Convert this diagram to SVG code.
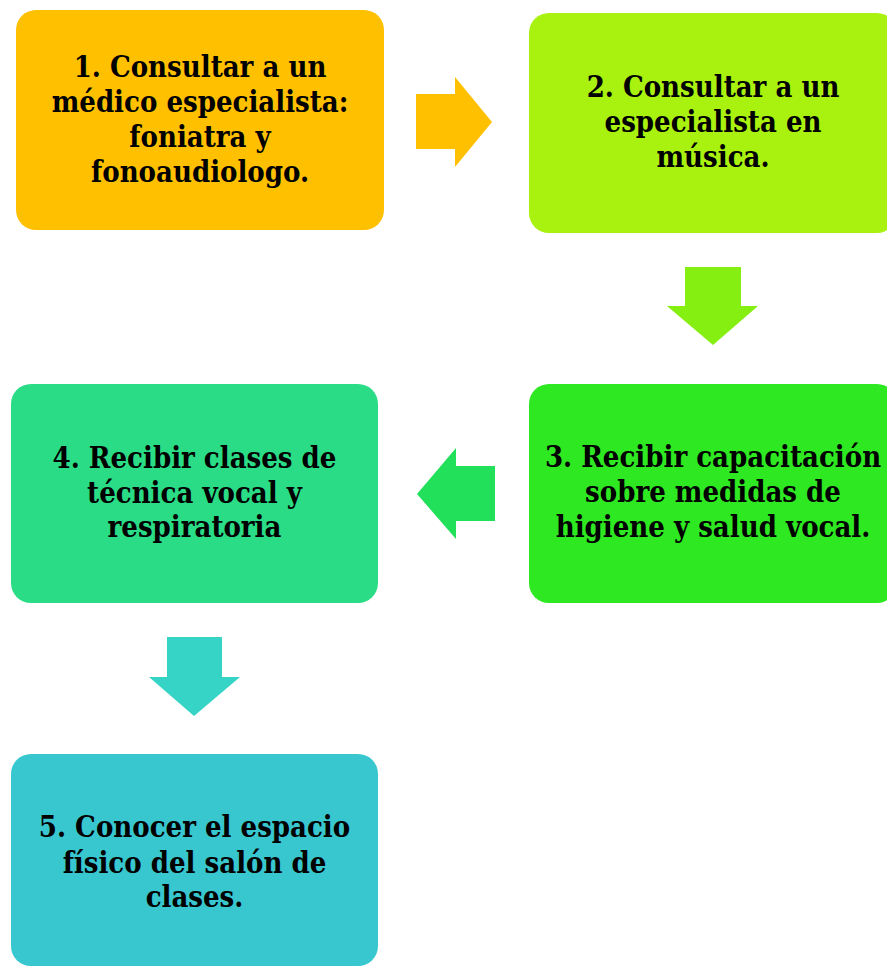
<svg xmlns="http://www.w3.org/2000/svg" width="887" height="966" viewBox="0 0 887 966">
<style>
text{font-family:"DejaVu Serif Condensed","DejaVu Serif","Liberation Serif",serif;font-stretch:condensed;font-weight:bold;font-size:29px;fill:#000;text-anchor:middle}
</style>
<rect width="887" height="966" fill="#fff"/>
<g id="connectors">
<polygon points="416,94 455,94 455,77 492,122 455,167 455,149 416,149" fill="#FFC000"/>
<polygon points="685,267 741,267 741,306 758,306 713,345 667,306 685,306" fill="#86EF12"/>
<polygon points="495,466 456,466 456,448 417,494 456,539 456,521 495,521" fill="#22E05A"/>
<polygon points="167,637 222,637 222,677 240,677 194,716 149,677 167,677" fill="#36D4C6"/>
</g>
<g id="node1">
<rect x="16" y="10" width="368" height="220" rx="20" fill="#FFC000"/>
<text x="200" y="77">1. Consultar a un</text>
<text x="200" y="112">médico especialista:</text>
<text x="200" y="147">foniatra y</text>
<text x="200" y="182">fonoaudiologo.</text>
</g>
<g id="node2">
<rect x="529" y="13" width="368" height="220" rx="20" fill="#A9F20F"/>
<text x="713" y="97">2. Consultar a un</text>
<text x="713" y="132">especialista en</text>
<text x="713" y="167">música.</text>
</g>
<g id="node3">
<rect x="529" y="384" width="368" height="219" rx="20" fill="#2EE822"/>
<text x="713" y="467">3. Recibir capacitación</text>
<text x="713" y="502">sobre medidas de</text>
<text x="713" y="537">higiene y salud vocal.</text>
</g>
<g id="node4">
<rect x="11" y="384" width="367" height="219" rx="20" fill="#2ADC86"/>
<text x="194.5" y="468">4. Recibir clases de</text>
<text x="194.5" y="503">técnica vocal y</text>
<text x="194.5" y="537">respiratoria</text>
</g>
<g id="node5">
<rect x="11" y="754" width="367" height="212" rx="20" fill="#38C6CF"/>
<text x="194.5" y="837">5. Conocer el espacio</text>
<text x="194.5" y="873">físico del salón de</text>
<text x="194.5" y="907">clases.</text>
</g>
</svg>
